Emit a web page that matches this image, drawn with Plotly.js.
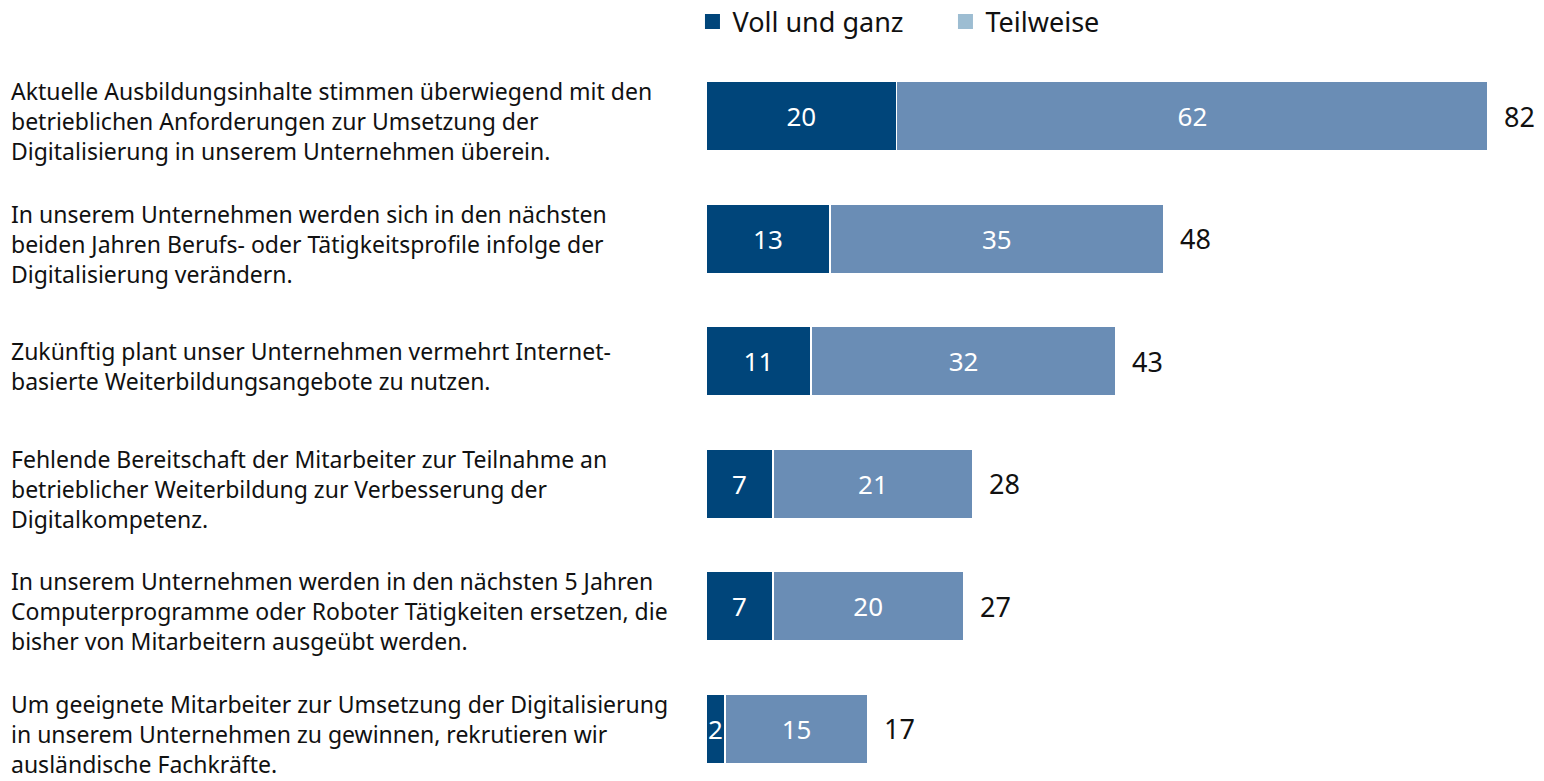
<!DOCTYPE html>
<html><head><meta charset="utf-8">
<script src="https://cdn.plot.ly/plotly-3.0.1.min.js"></script>
<style>html,body{margin:0;padding:0;background:#fff}#chart{width:1544px;height:781px}</style>
</head><body><div id="chart"></div>
<script>
const categories = [
  "Aktuelle Ausbildungsinhalte stimmen überwiegend mit den<br>betrieblichen Anforderungen zur Umsetzung der<br>Digitalisierung in unserem Unternehmen überein.",
  "In unserem Unternehmen werden sich in den nächsten<br>beiden Jahren Berufs- oder Tätigkeitsprofile infolge der<br>Digitalisierung verändern.",
  "Zukünftig plant unser Unternehmen vermehrt Internet-<br>basierte Weiterbildungsangebote zu nutzen.",
  "Fehlende Bereitschaft der Mitarbeiter zur Teilnahme an<br>betrieblicher Weiterbildung zur Verbesserung der<br>Digitalkompetenz.",
  "In unserem Unternehmen werden in den nächsten 5 Jahren<br>Computerprogramme oder Roboter Tätigkeiten ersetzen, die<br>bisher von Mitarbeitern ausgeübt werden.",
  "Um geeignete Mitarbeiter zur Umsetzung der Digitalisierung<br>in unserem Unternehmen zu gewinnen, rekrutieren wir<br>ausländische Fachkräfte."
];
const vollUndGanz = [20, 13, 11, 7, 7, 2];
const teilweise = [62, 35, 32, 21, 20, 15];
const totals = [82, 48, 43, 28, 27, 17];
const seriesNames = ["Voll und ganz", "Teilweise"];

const FONT = "'Noto Sans', sans-serif";
const DARK = "#00457a", MID = "#6a8db5", LEGLIGHT = "#9dbdd2";
const yIdx = categories.map((_, i) => i);

const barCommon = {
  type: "bar", orientation: "h", y: yIdx,
  textposition: "inside", insidetextanchor: "middle", textangle: 0,
  constraintext: "none", cliponaxis: false,
  textfont: {family: FONT, size: 26, color: "#ffffff"},
  hoverinfo: "skip", showlegend: false
};
const traces = [
  Object.assign({}, barCommon, {name: seriesNames[0], x: vollUndGanz, text: vollUndGanz.map(String),
    marker: {color: DARK, line: {color: "#ffffff", width: 1.5}}}),
  Object.assign({}, barCommon, {name: seriesNames[1], x: teilweise, text: teilweise.map(String),
    marker: {color: MID, line: {color: "#ffffff", width: 1.5}}}),
  {type: "scatter", mode: "markers", x: [null], y: [null], name: seriesNames[0],
    marker: {color: DARK, symbol: "square", size: 15}, showlegend: true},
  {type: "scatter", mode: "markers", x: [null], y: [null], name: seriesNames[1],
    marker: {color: LEGLIGHT, symbol: "square", size: 15}, showlegend: true}
];

const annotations = [];
categories.forEach((c, i) => {
  annotations.push({xref: "paper", yref: "y", x: -0.8386, y: i, text: c, showarrow: false,
    xanchor: "left", yanchor: "middle", align: "left", yshift: -5, borderpad: 0,
    font: {family: FONT, size: 23, color: "#111111"}});
  annotations.push({xref: "x", yref: "y", x: totals[i], y: i, text: String(totals[i]), showarrow: false,
    xanchor: "left", yanchor: "middle", xshift: 14,
    font: {family: FONT, size: 27, color: "#111111"}});
});

const layout = {
  width: 1544, height: 781,
  margin: {l: 706, r: 8, t: 55, b: 0, pad: 0, autoexpand: false},
  paper_bgcolor: "#ffffff", plot_bgcolor: "#ffffff",
  barmode: "stack", bargap: 0.43,
  font: {family: FONT, color: "#111111"},
  xaxis: {range: [0, 87.03], visible: false, fixedrange: true},
  yaxis: {type: "linear", range: [5.427, -0.5], visible: false, fixedrange: true},
  showlegend: true,
  legend: {orientation: "h", x: -0.0163, xanchor: "left", y: 1.0455, yanchor: "middle",
    font: {family: FONT, size: 27, color: "#111111"}, traceorder: "normal",
    entrywidth: 208, entrywidthmode: "pixels", bgcolor: "rgba(0,0,0,0)"},
  annotations: annotations
};
Plotly.newPlot("chart", traces, layout, {displayModeBar: false, staticPlot: true});
</script></body></html>
